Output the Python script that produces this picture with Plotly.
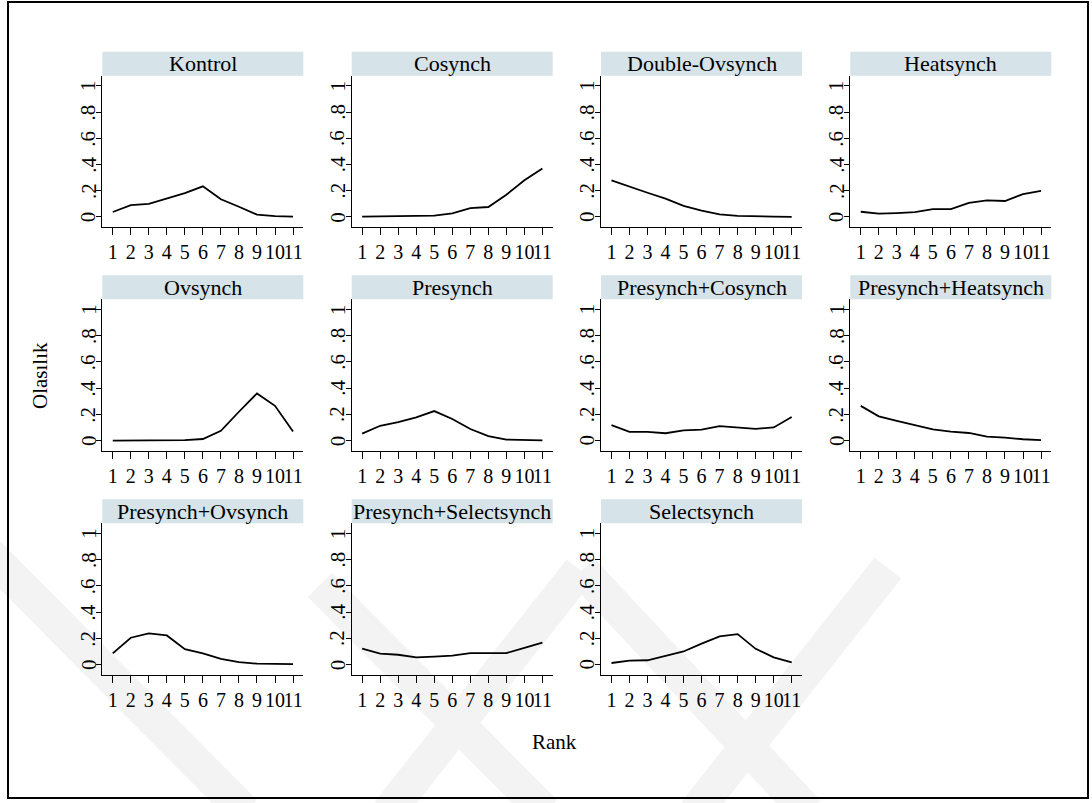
import math
import plotly.graph_objects as go

# Rank positions shared by every panel
ranks = list(range(1, 12))

panels = [
    "Kontrol", "Cosynch", "Double-Ovsynch", "Heatsynch",
    "Ovsynch", "Presynch", "Presynch+Cosynch", "Presynch+Heatsynch",
    "Presynch+Ovsynch", "Presynch+Selectsynch", "Selectsynch",
]

# Probability of each rank, per protocol
kontrol = [0.038, 0.090, 0.100, 0.140, 0.182, 0.234, 0.135, 0.078, 0.018, 0.007, 0.002]
cosynch = [0.002, 0.004, 0.005, 0.006, 0.010, 0.028, 0.068, 0.076, 0.170, 0.280, 0.370]
double_ovsynch = [0.280, 0.230, 0.185, 0.140, 0.085, 0.048, 0.020, 0.009, 0.004, 0.002, 0.001]
heatsynch = [0.040, 0.025, 0.030, 0.037, 0.060, 0.060, 0.107, 0.127, 0.122, 0.175, 0.200]
ovsynch = [0.000, 0.000, 0.000, 0.001, 0.003, 0.012, 0.075, 0.220, 0.360, 0.265, 0.070]
presynch = [0.053, 0.113, 0.140, 0.177, 0.225, 0.165, 0.088, 0.034, 0.008, 0.005, 0.002]
presynch_cosynch = [0.118, 0.066, 0.066, 0.056, 0.078, 0.083, 0.110, 0.098, 0.090, 0.100, 0.180]
presynch_heatsynch = [0.265, 0.185, 0.150, 0.115, 0.085, 0.068, 0.058, 0.030, 0.023, 0.010, 0.003]
presynch_ovsynch = [0.085, 0.205, 0.238, 0.222, 0.118, 0.086, 0.043, 0.018, 0.007, 0.004, 0.003]
presynch_selectsynch = [0.122, 0.083, 0.075, 0.055, 0.060, 0.068, 0.087, 0.090, 0.088, 0.128, 0.168]
selectsynch = [0.012, 0.030, 0.033, 0.065, 0.100, 0.160, 0.215, 0.232, 0.120, 0.055, 0.017]

series = [
    kontrol, cosynch, double_ovsynch, heatsynch,
    ovsynch, presynch, presynch_cosynch, presynch_heatsynch,
    presynch_ovsynch, presynch_selectsynch, selectsynch,
]

y_ticks = [0, 0.2, 0.4, 0.6, 0.8, 1]
y_tick_text = ["0", ".2", ".4", ".6", ".8", "1"]

W, H = 1092, 803
FONT = "Liberation Serif, Times New Roman, serif"
STRIP_FILL = "#d6e3e8"
MARK_FILL = "#f3f3f3"

# Panel geometry in pixels
col_left = [102.3, 351.7, 601.0, 850.3]
plot_w = 201.0
row_top = [75.7, 299.3, 523.3]
plot_h = 151.5
strip_h = 24.0

fig = go.Figure()
layout = {}
shapes = []
annotations = []


def band_path(p0, p1, width):
    """Closed SVG path (paper coords) for a straight stroke of given pixel width."""
    (ax, ay), (bx, by) = p0, p1
    dx, dy = bx - ax, by - ay
    n = math.hypot(dx, dy)
    ox, oy = -dy / n * width / 2, dx / n * width / 2
    pts = [(ax + ox, ay + oy), (bx + ox, by + oy), (bx - ox, by - oy), (ax - ox, ay - oy)]
    return "M " + " L ".join(f"{x / W:.5f},{1 - y / H:.5f}" for x, y in pts) + " Z"


# Faint background strokes in the lower part of the page
for p0, p1 in [
    ((-20, 545), (245, 812)),
    ((320, 585), (545, 812)),
    ((580, 570), (388, 812)),
    ((582, 570), (808, 812)),
    ((888, 568), (695, 812)),
]:
    shapes.append(dict(
        type="path", xref="paper", yref="paper", path=band_path(p0, p1, 34),
        fillcolor=MARK_FILL, line=dict(width=0), layer="below",
    ))

for i, (name, vals) in enumerate(zip(panels, series)):
    r, c = divmod(i, 4)
    sfx = "" if i == 0 else str(i + 1)
    fig.add_trace(go.Scatter(
        x=ranks, y=vals, mode="lines",
        line=dict(color="black", width=1.8),
        xaxis="x" + sfx, yaxis="y" + sfx,
        showlegend=False, hoverinfo="skip",
    ))
    x0 = col_left[c] / W
    x1 = (col_left[c] + plot_w) / W
    top = row_top[r]
    bot = top + plot_h
    layout["xaxis" + sfx] = dict(
        domain=[x0, x1], anchor="y" + sfx, range=[0.42, 11.57],
        tickvals=ranks, tickangle=0,
        showline=True, linecolor="black", linewidth=1,
        ticks="outside", ticklen=7, tickwidth=1, tickcolor="black",
        showgrid=False, zeroline=False,
        tickfont=dict(family=FONT, size=20, color="black"),
        fixedrange=True,
    )
    layout["yaxis" + sfx] = dict(
        domain=[1 - bot / H, 1 - top / H], anchor="x" + sfx,
        range=[-0.078, 1.078], tickvals=y_ticks, showticklabels=False,
        showline=True, linecolor="black", linewidth=1,
        ticks="outside", ticklen=5, tickwidth=1, tickcolor="black",
        showgrid=False, zeroline=False,
        fixedrange=True,
    )
    # Rotated y tick labels placed on the panel's own y scale
    for v, t in zip(y_ticks, y_tick_text):
        annotations.append(dict(
            text=t, xref=f"x{sfx} domain", yref="y" + sfx,
            x=0, y=v, xshift=-14, xanchor="center", yanchor="middle",
            textangle=-90, showarrow=False,
            font=dict(family=FONT, size=21, color="black"),
        ))
    # Panel header strip
    shapes.append(dict(
        type="rect", xref="paper", yref="paper",
        x0=x0, x1=x1, y0=1 - top / H, y1=1 - (top - strip_h) / H,
        fillcolor=STRIP_FILL, line=dict(width=0), layer="below",
    ))
    annotations.append(dict(
        text=name, xref="paper", yref="paper",
        x=(x0 + x1) / 2, y=1 - (top - strip_h / 2) / H,
        xanchor="center", yanchor="middle", showarrow=False,
        font=dict(family=FONT, size=22, color="black"),
    ))

# Outer frame
shapes.append(dict(
    type="rect", xref="paper", yref="paper",
    x0=8 / W, x1=1088 / W, y0=1 - 798 / H, y1=1 - 2 / H,
    line=dict(color="black", width=2), fillcolor="rgba(0,0,0,0)",
))

# Shared axis titles
annotations.append(dict(
    text="Rank", xref="paper", yref="paper", x=554 / W, y=1 - 742 / H,
    xanchor="center", yanchor="middle", showarrow=False,
    font=dict(family=FONT, size=21, color="black"),
))
annotations.append(dict(
    text="Olasılık", xref="paper", yref="paper", x=40 / W, y=1 - 376 / H,
    xanchor="center", yanchor="middle", showarrow=False, textangle=-90,
    font=dict(family=FONT, size=21, color="black"),
))

fig.update_layout(
    width=W, height=H, autosize=False,
    margin=dict(l=0, r=0, t=0, b=0),
    paper_bgcolor="white", plot_bgcolor="rgba(0,0,0,0)",
    shapes=shapes, annotations=annotations,
    **layout,
)

fig.write_html("out.html")
